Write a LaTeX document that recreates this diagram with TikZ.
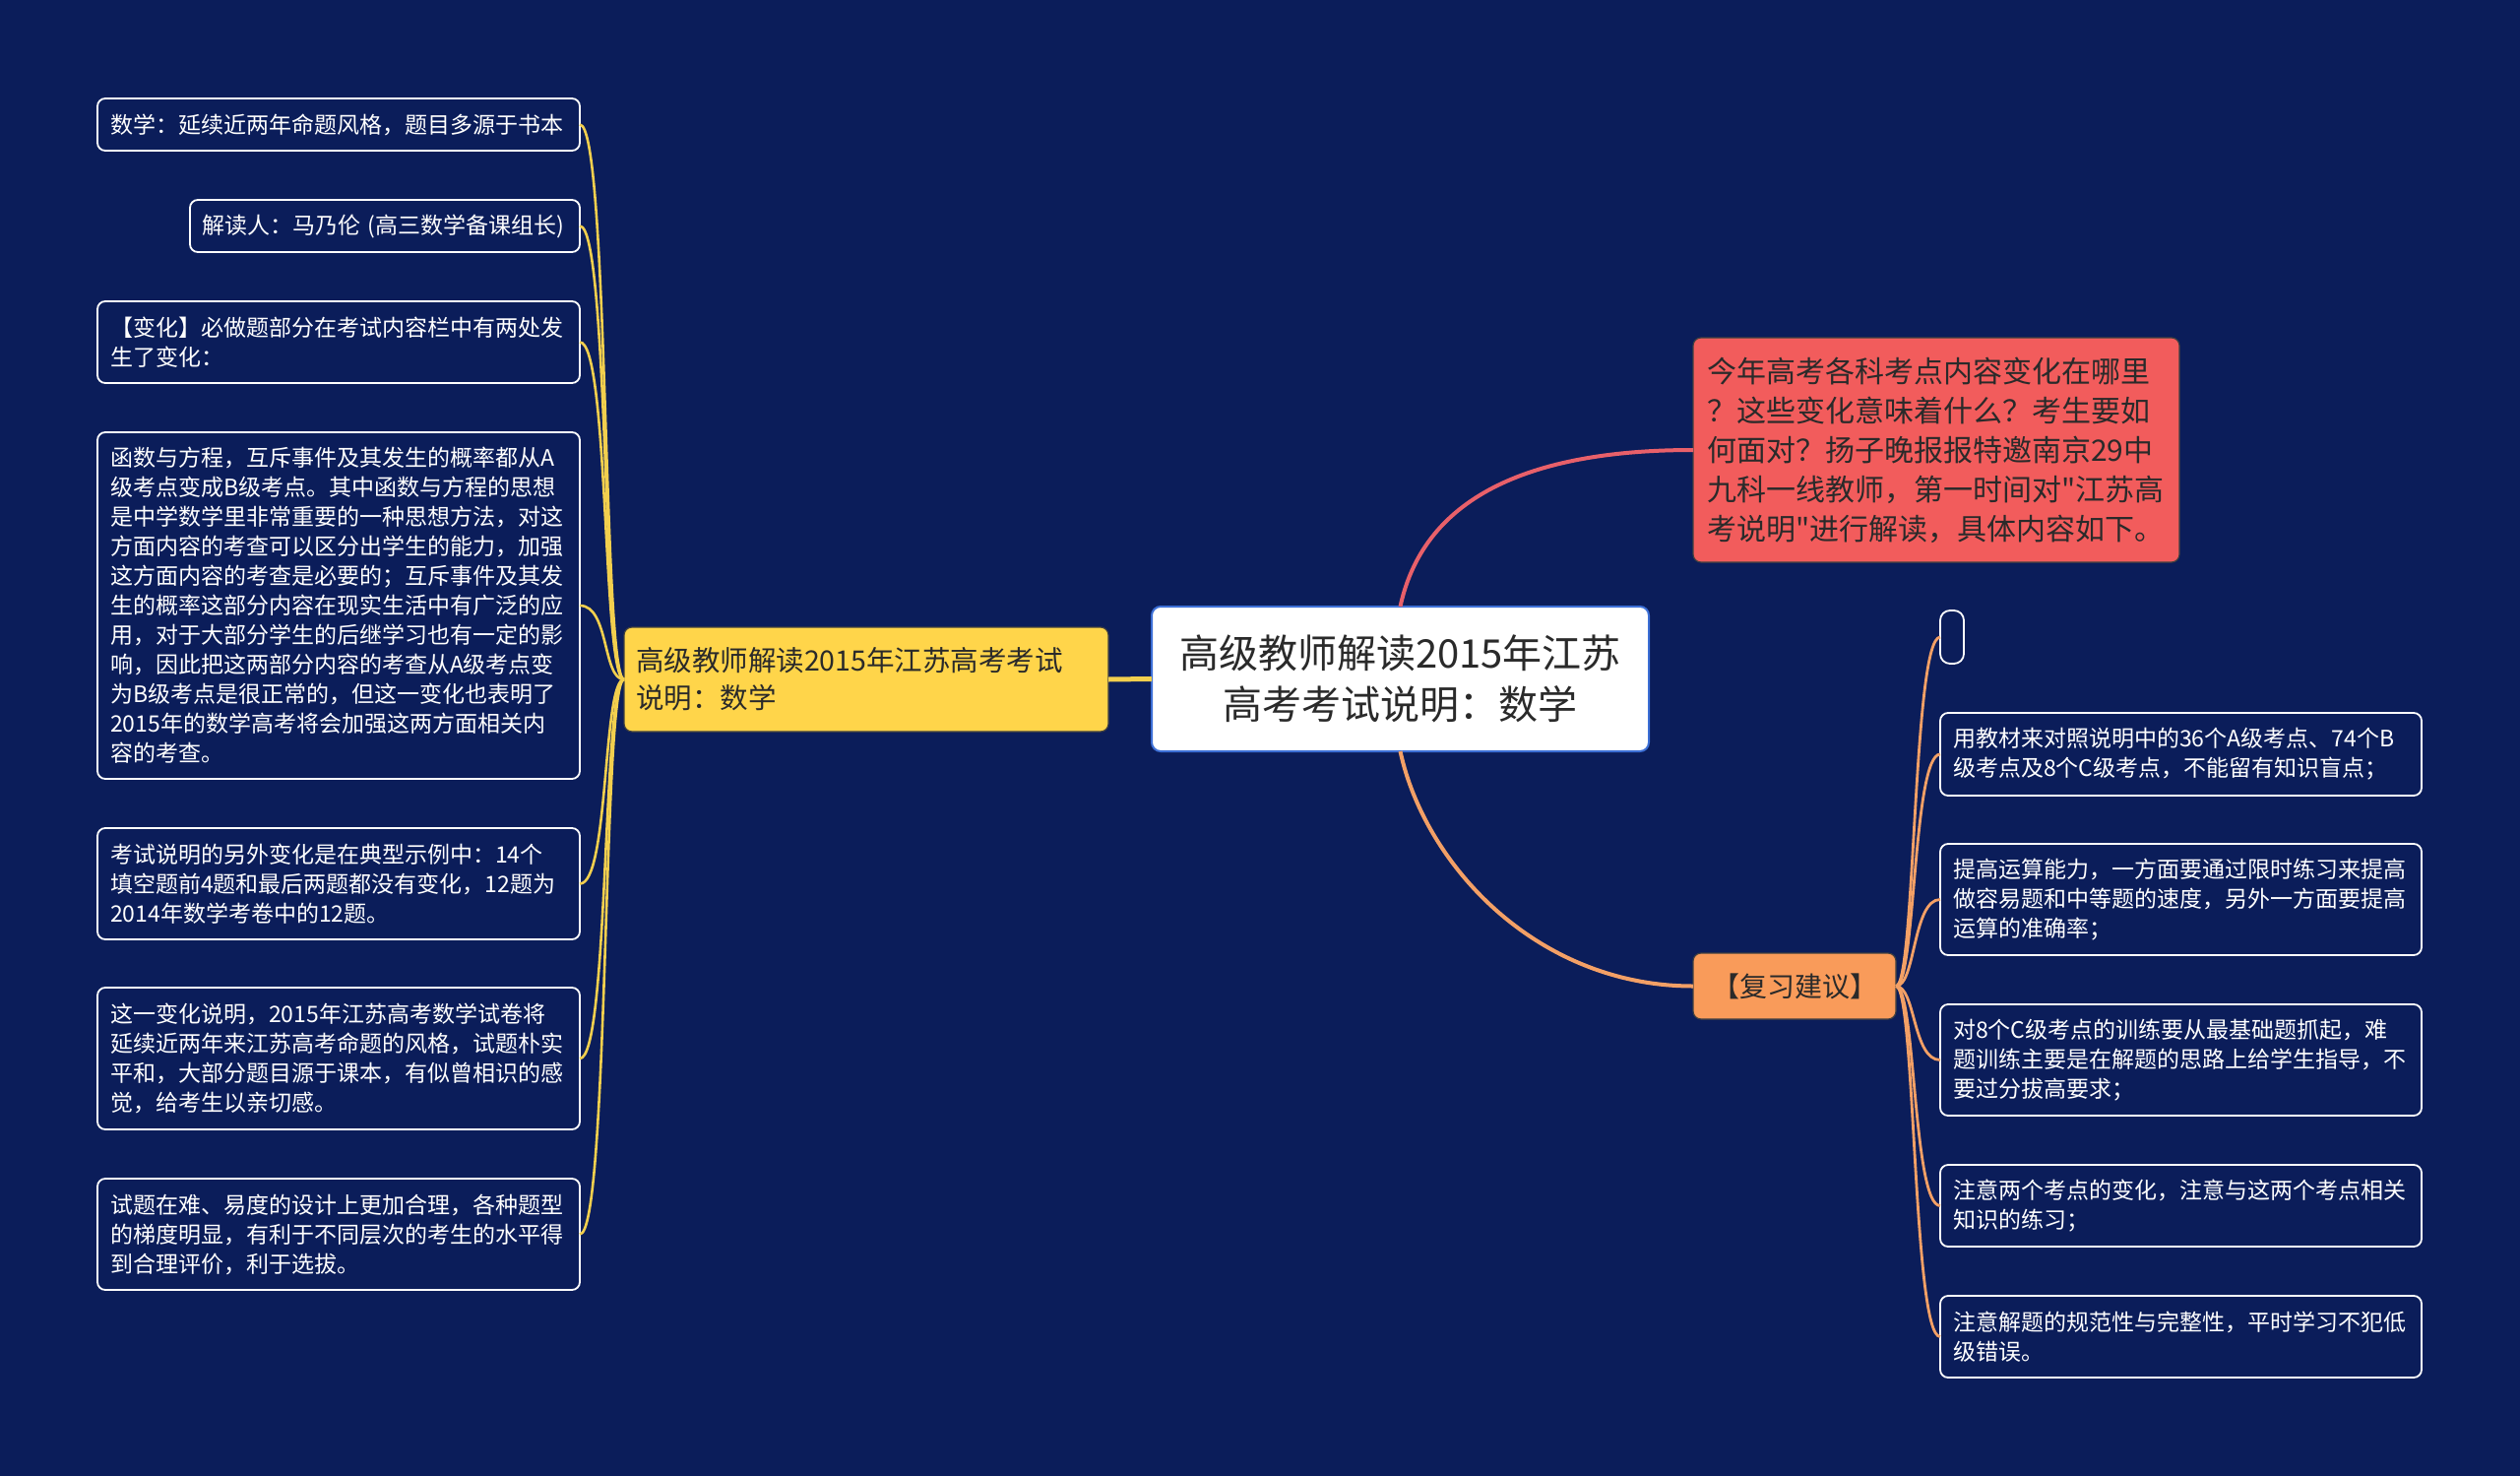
\documentclass[tikz,border=0pt]{standalone}
\usepackage{fontspec}
\newfontfamily\cjk{Noto Sans CJK SC}
\definecolor{bgc}{HTML}{0B1D5A}
\definecolor{ylw}{HTML}{FFD54A}
\definecolor{ylwline}{HTML}{F2CF4E}
\definecolor{redn}{HTML}{F25C5C}
\definecolor{redline}{HTML}{E8606A}
\definecolor{orgn}{HTML}{F99B5A}
\definecolor{orgline}{HTML}{F3A066}
\definecolor{rootborder}{HTML}{3C6FD6}
\definecolor{darktext}{HTML}{2A2A2A}
\tikzset{
  leaf/.style={draw=white, line width=1.8pt, rounded corners=8pt, fill=bgc, text=white,
    font=\cjk\fontsize{23}{30}\selectfont, align=left, anchor=north west,
    inner xsep=13pt, inner ysep=0pt, outer sep=0pt},
  rootbox/.style={draw=rootborder, line width=2pt, rounded corners=9pt, fill=white, text=darktext,
    font=\cjk\fontsize{40}{52}\selectfont, align=center, anchor=north west,
    inner sep=0pt, outer sep=0pt},
  mainbox/.style={draw=black!75, line width=1.2pt, rounded corners=8pt, text=darktext,
    align=left, anchor=north west, inner ysep=0pt, outer sep=0pt},
  ylink/.style={draw=ylwline, line width=2.6pt},
  olink/.style={draw=orgline, line width=2.8pt},
}
\begin{document}
\begin{tikzpicture}[x=1pt,y=-1pt]
\fill[bgc] (0,0) rectangle (2560,1499);
\useasboundingbox (0,0) rectangle (2560,1499);

% root
\node[rootbox, minimum width=505pt, minimum height=147pt] (root) at (1170,616)
  {高级教师解读2015年江苏\\高考考试说明：数学};

% yellow branch
\node[mainbox, fill=ylw, font=\cjk\fontsize{28.5}{38}\selectfont, inner xsep=12pt,
  text width=468pt, minimum height=106pt] (yl) at (634,637)
  {高级教师解读2015年江苏高考考试\\说明：数学};

% red node
\node[mainbox, fill=redn, font=\cjk\fontsize{30}{40}\selectfont, inner xsep=14pt,
  text width=466pt, minimum height=228pt] (rd) at (1720,343)
  {今年高考各科考点内容变化在哪里\\？这些变化意味着什么？考生要如\\何面对？扬子晚报报特邀南京29中\\九科一线教师，第一时间对"江苏高\\考说明"进行解读，具体内容如下。};

% orange node
\node[mainbox, fill=orgn, font=\cjk\fontsize{28}{36}\selectfont, align=center, inner xsep=0pt,
  minimum width=206pt, minimum height=67pt] (og) at (1720,968) {【复习建议】};

% left leaves
\node[leaf, text width=464pt, minimum height=53pt] (L1) at (99,100)
  {数学：延续近两年命题风格，题目多源于书本};
\node[leaf, inner xsep=12pt, text width=372pt, minimum height=53pt] (L2) at (193,203)
  {\mbox{解读人：马乃伦 (高三数学备课组长)}};
\node[leaf, text width=464pt, minimum height=83pt] (L3) at (99,306)
  {【变化】必做题部分在考试内容栏中有两处发\\生了变化：};
\node[leaf, text width=464pt, minimum height=352pt] (L4) at (99,439)
  {函数与方程，互斥事件及其发生的概率都从A\\级考点变成B级考点。其中函数与方程的思想\\是中学数学里非常重要的一种思想方法，对这\\方面内容的考查可以区分出学生的能力，加强\\这方面内容的考查是必要的；互斥事件及其发\\生的概率这部分内容在现实生活中有广泛的应\\用，对于大部分学生的后继学习也有一定的影\\响，因此把这两部分内容的考查从A级考点变\\为B级考点是很正常的，但这一变化也表明了\\2015年的数学高考将会加强这两方面相关内\\容的考查。};
\node[leaf, text width=464pt, minimum height=113pt] (L5) at (99,841)
  {考试说明的另外变化是在典型示例中：14个\\填空题前4题和最后两题都没有变化，12题为\\2014年数学考卷中的12题。};
\node[leaf, text width=464pt, minimum height=144pt] (L6) at (99,1003)
  {这一变化说明，2015年江苏高考数学试卷将\\延续近两年来江苏高考命题的风格，试题朴实\\平和，大部分题目源于课本，有似曾相识的感\\觉，给考生以亲切感。};
\node[leaf, text width=464pt, minimum height=113pt] (L7) at (99,1197)
  {试题在难、易度的设计上更加合理，各种题型\\的梯度明显，有利于不同层次的考生的水平得\\到合理评价，利于选拔。};

% right leaves
\node[draw=white, line width=1.8pt, rounded corners=10pt, anchor=north west, inner sep=0pt,
  outer sep=0pt, minimum width=24pt, minimum height=54pt] (E) at (1971,620) {};
\node[leaf, text width=463pt, minimum height=84pt] (R1) at (1971,724)
  {用教材来对照说明中的36个A级考点、74个B\\级考点及8个C级考点，不能留有知识盲点；};
\node[leaf, text width=463pt, minimum height=113pt] (R2) at (1971,857)
  {提高运算能力，一方面要通过限时练习来提高\\做容易题和中等题的速度，另外一方面要提高\\运算的准确率；};
\node[leaf, text width=463pt, minimum height=113pt] (R3) at (1971,1020)
  {对8个C级考点的训练要从最基础题抓起，难\\题训练主要是在解题的思路上给学生指导，不\\要过分拔高要求；};
\node[leaf, text width=463pt, minimum height=83pt] (R4) at (1971,1183)
  {注意两个考点的变化，注意与这两个考点相关\\知识的练习；};
\node[leaf, text width=463pt, minimum height=83pt] (R5) at (1971,1316)
  {注意解题的规范性与完整性，平时学习不犯低\\级错误。};

% connectors
\draw[draw=ylwline, line width=5pt] (root.west) -- (yl.east);
\foreach \n in {L1,L2,L3,L4,L5,L6,L7}
  \draw[ylink] (yl.west) .. controls +(-22,0) and +(30,0) .. (\n.east);
\draw[draw=redline, line width=4pt] (root.north) .. controls +(25,-116) and +(-158,0) .. (rd.west);
\draw[draw=orgline, line width=4pt] (root.south) .. controls +(25,116) and +(-158,0) .. (og.west);
\foreach \n in {E,R1,R2,R3,R4,R5}
  \draw[olink] (og.east) .. controls +(20,0) and +(-28,0) .. (\n.west);
\end{tikzpicture}
\end{document}
